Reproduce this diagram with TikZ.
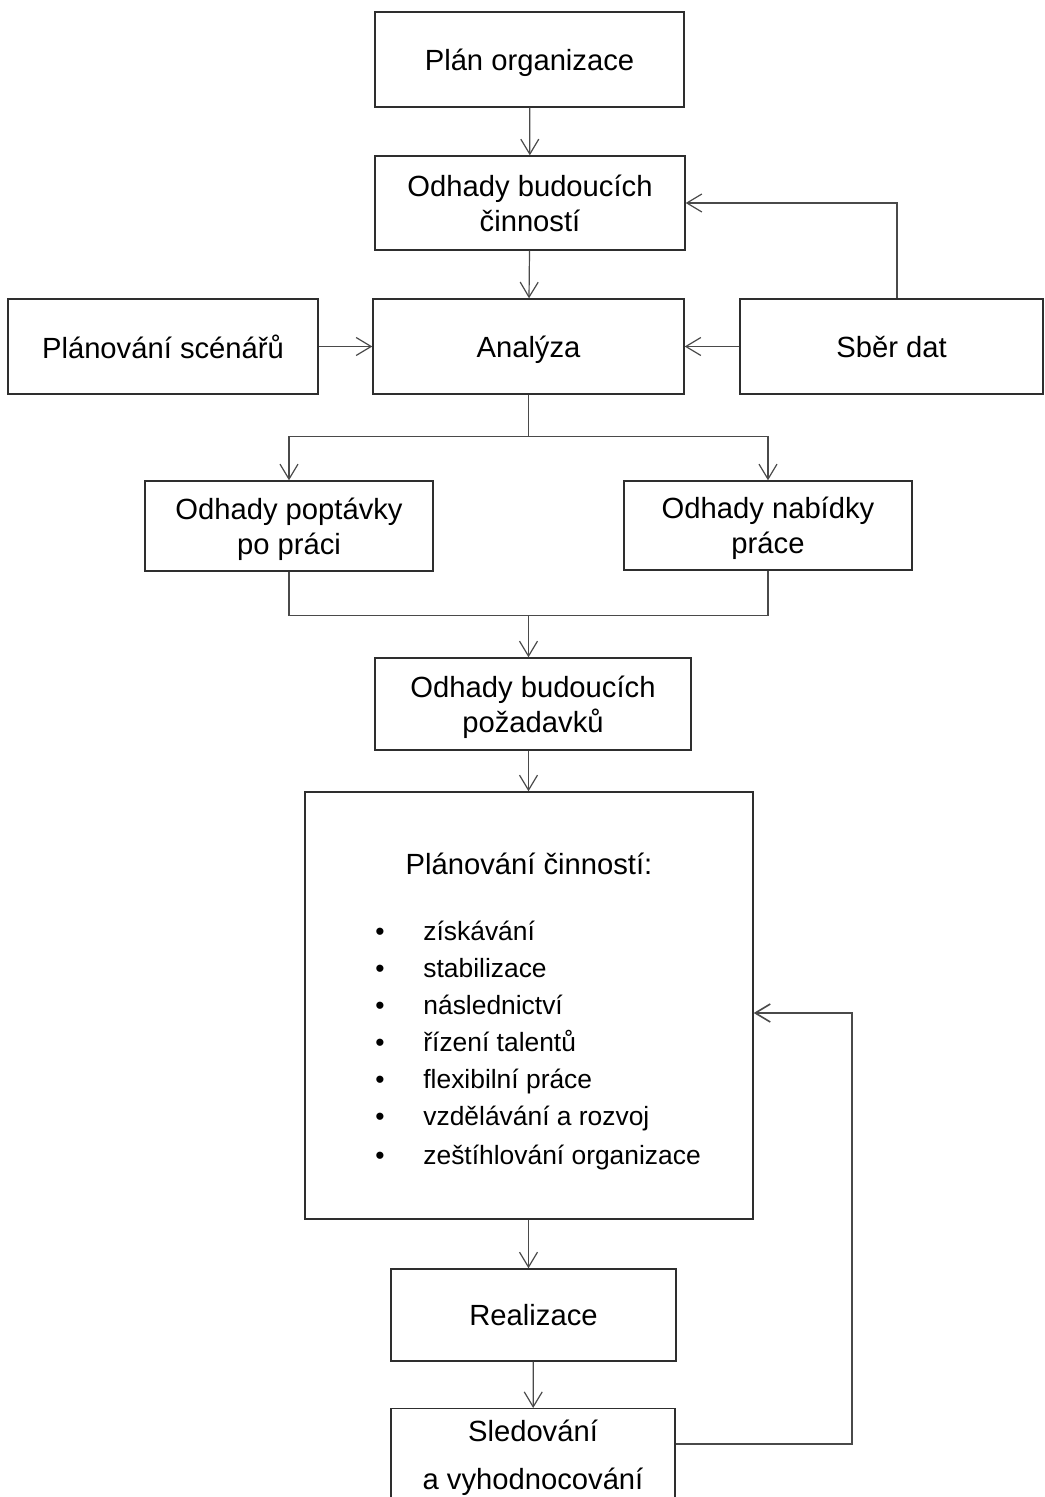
\documentclass[tikz,border=0pt]{standalone}
\usepackage{fontspec}
\setmainfont{Liberation Sans}
\usepackage{xcolor}
\usetikzlibrary{arrows.meta,positioning,calc}
\definecolor{hrline}{HTML}{4A4A4A}
\definecolor{hrbox}{HTML}{2E2E2E}
\tikzset{
  box/.style  = {rectangle, draw=hrbox, line width=0.7pt, fill=white,
                 align=center, inner sep=2pt, text depth=0pt,
                 font=\fontsize{14.6pt}{17.3pt}\selectfont},
  ed/.style   = {-{Straight Barb[length=7.5pt, width=9pt]}, draw=hrline,
                 line width=0.6pt},
  ln/.style   = {draw=hrline, line width=0.6pt},
  lbl/.style  = {font=\fontsize{14.6pt}{16.8pt}\selectfont, inner sep=0pt},
  itm/.style  = {font=\fontsize{13.2pt}{15pt}\selectfont, inner sep=0pt,
                 anchor=base west},
}
\begin{document}
\begin{tikzpicture}[x=0.5pt,y=-0.5pt]
  \useasboundingbox (0,0) rectangle (1044,1497);

  % --- upper chain
  \node[box, minimum width=154.5pt, minimum height=47.5pt]
    (plan) at (529.5,59.5) {Plán organizace};
  \node[box, minimum width=155pt, minimum height=47pt]
    (odhcin) at (530,203) {Odhady budoucích\\činností};
  \node[box, minimum width=155.5pt, minimum height=47.5pt]
    (analyza) at (528.5,346.5) {Analýza};
  \node[box, minimum width=155pt, minimum height=47.5pt]
    (scen) at (163,346.5) {Plánování scénářů};
  \node[box, minimum width=151.5pt, minimum height=47.5pt]
    (sber) at (891.5,346.5) {Sběr dat};
  \draw[ed] (plan) -- (odhcin);
  \draw[ed] (odhcin) -- (analyza);
  \draw[ed] (scen) -- (analyza);
  \draw[ed] (sber) -- (analyza);
  \draw[ed] ([xshift=2.75pt]sber.north) |- (odhcin.east);

  % --- demand / supply
  \node[box, minimum width=144pt, minimum height=45pt]
    (popt) at (289,526) {Odhady poptávky\\po práci};
  \node[box, minimum width=144pt, minimum height=44.5pt]
    (nab) at (768,525.5) {Odhady nabídky\\práce};
  \draw[ln] (analyza.south) -- ++(0,42) coordinate (split);
  \draw[ed] (split) -| (popt.north);
  \draw[ed] (split) -| (nab.north);

  \node[box, minimum width=158pt, minimum height=46pt]
    (pozad) at (533,704) {Odhady budoucích\\požadavků};
  \draw[ln] (popt.south) -- ++(0,44) coordinate (mleft)
    -| (nab.south);
  \coordinate (merge) at ($(mleft)!.5!(mleft -| nab.south)$);
  \draw[ed] (merge) -- (merge |- pozad.north);

  % --- activity planning
  \node[box, minimum width=224pt, minimum height=213.5pt]
    (planc) at (529,1005.5) {};
  \draw[ed] (pozad.south -| merge) -- (merge |- planc.north);
  \node[lbl] (plantit) at (529,864) {Plánování činností:};
  \foreach \t [count=\i] in {získávání, stabilizace, následnictví,
      řízení talentů, flexibilní práce, vzdělávání a rozvoj,
      zeštíhlování organizace}{
    \node[itm] (it\i) at (423,{931+37*(\i-1)+(\i==7)*2+9}) {\t};
    \node[itm, anchor=base] (bu\i) at (380,{931+37*(\i-1)+(\i==7)*2+9}) {•};
  }

  % --- realisation and monitoring
  \node[box, minimum width=142.5pt, minimum height=46pt]
    (real) at (533.5,1315) {Realizace};
  \node[box, minimum width=142pt, minimum height=46pt, anchor=north,
        inner ysep=3pt]
    (sled) at (533,1408) {Sledování\\[6.5pt]a vyhodnocování};
  \draw[ed] (planc.south -| merge) -- (merge |- real.north);
  \draw[ed] (real) -- (sled);
  \draw[ed, line width=0.8pt] ([yshift=-18pt]sled.north east) -- ++(176,0)
    |- ([yshift=-3.75pt]planc.east);
\end{tikzpicture}
\end{document}
